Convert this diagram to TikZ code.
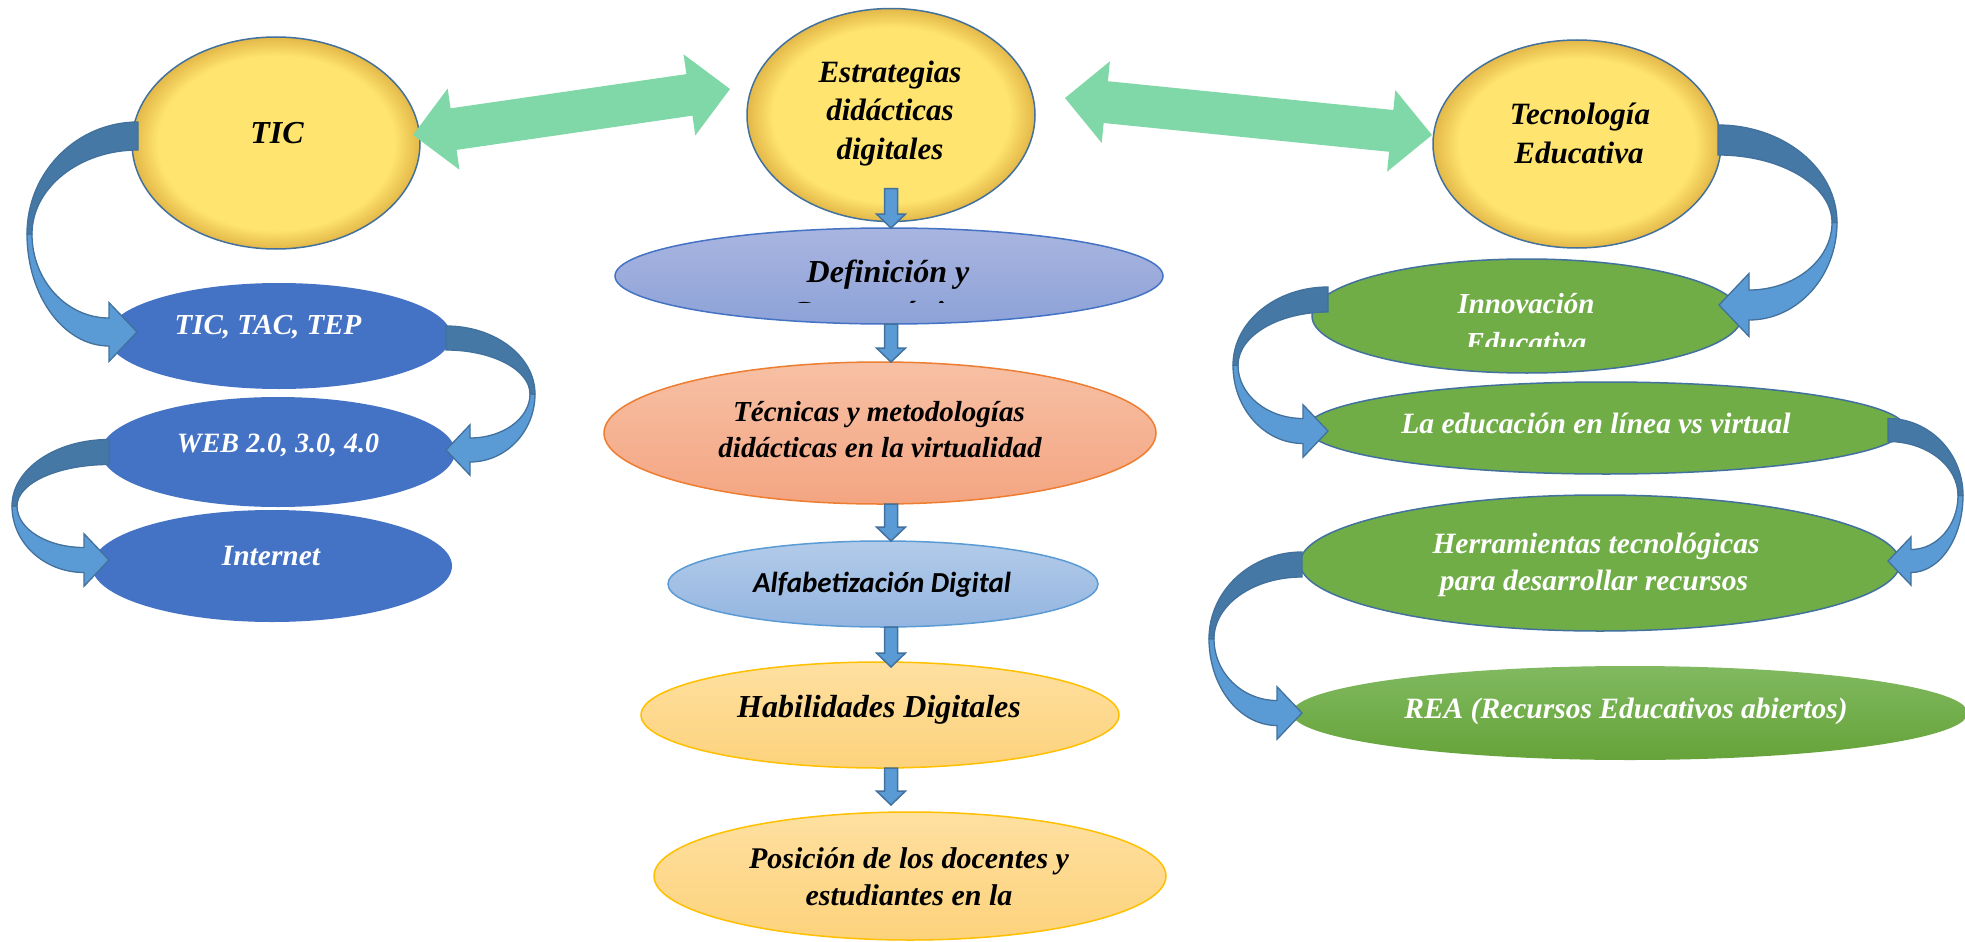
\documentclass[tikz,border=0pt]{standalone}
\usepackage{fontspec}
\setmainfont{Liberation Serif}
\newfontfamily\sansbi{Carlito}
\usetikzlibrary{shapes.geometric,calc}

% palette
\definecolor{ylw}{HTML}{FFE470}
\definecolor{ylwrim}{HTML}{E3B848}
\definecolor{rimline}{HTML}{41719C}
\definecolor{mint}{HTML}{80D8A8}
\definecolor{ribdark}{HTML}{4678A6}
\definecolor{riblight}{HTML}{5B9BD5}
\definecolor{ribedge}{HTML}{41719C}
\definecolor{navy}{HTML}{4472C4}
\definecolor{leaf}{HTML}{70AD47}
\definecolor{defA}{HTML}{A9B5E0}
\definecolor{defB}{HTML}{8DA2D8}
\definecolor{tecA}{HTML}{F7C0A4}
\definecolor{tecB}{HTML}{F4A582}
\definecolor{orng}{HTML}{ED7D31}
\definecolor{alfA}{HTML}{B2CBE9}
\definecolor{alfB}{HTML}{94B5E0}
\definecolor{sky}{HTML}{5B9BD5}
\definecolor{habA}{HTML}{FEE0A0}
\definecolor{habB}{HTML}{FDD27C}
\definecolor{gold}{HTML}{FFC000}
\definecolor{reaA}{HTML}{80B960}
\definecolor{reaB}{HTML}{66A339}

% yellow discs: flat centre, darker soft rim
\pgfdeclareradialshading{softyellow}{\pgfpoint{0bp}{0bp}}{color(0bp)=(ylw); color(20.5bp)=(ylw); color(25bp)=(ylwrim); color(50bp)=(ylwrim)}

\newcommand\fs[1]{\fontsize{#1}{#1}\selectfont}

% wide two-headed arrow between two named points
\newcommand\twinarrow[2]{%
  \fill[mint] let \p1=(#1), \p2=(#2), \n1={atan2(\y2-\y1,\x2-\x1)} in
    (\p1) -- ($(\p1)+(\n1:41pt)+(\n1+90:41pt)$) -- ($(\p1)+(\n1:41pt)+(\n1+90:21pt)$)
    -- ($(\p2)+(\n1+180:41pt)+(\n1+90:21pt)$) -- ($(\p2)+(\n1+180:41pt)+(\n1+90:41pt)$)
    -- (\p2) -- ($(\p2)+(\n1+180:41pt)+(\n1-90:41pt)$) -- ($(\p2)+(\n1+180:41pt)+(\n1-90:21pt)$)
    -- ($(\p1)+(\n1:41pt)+(\n1-90:21pt)$) -- ($(\p1)+(\n1:41pt)+(\n1-90:41pt)$) -- cycle;}

% short vertical block arrow
\newcommand\blockdown[2]{%
  \filldraw[fill=riblight, draw=ribedge, line width=1.5pt, line join=miter]
    let \p1=(#1), \p2=(#2) in
    (\x1-6.5pt,\y1) -- (\x1+6.5pt,\y1) -- (\x1+6.5pt,\y2+14pt) -- (\x1+14.5pt,\y2+14pt)
    -- (\x1,\y2) -- (\x1-14.5pt,\y2+14pt) -- (\x1-6.5pt,\y2+14pt) -- cycle;}

% twisted ribbon arrow: #1 side (1 right, -1 left), #2 tail point, #3 tip point,
% #4 band width, #5 bulge
\newcommand\ribbon[5]{%
  \path (#2); \pgfgetlastxy{\rbXa}{\rbYa}%
  \path (#3); \pgfgetlastxy{\rbXb}{\rbYb}%
  \pgfmathsetmacro\rbM{\rbYa-(\rbYb)}%
  \pgfmathsetmacro\rbTx{#1*(\rbXb-(\rbXa))}%
  \pgfmathsetmacro\rbW{#4/2}%
  \pgfmathsetmacro\rbR{#5}%
  \pgfmathsetmacro\rbD{#5-5}%
  \pgfmathsetmacro\rbC{\rbM/2}%
  \pgfmathsetmacro\rbB{\rbTx+#4}%
  \pgfmathsetmacro\rbH{1.05*#4}%
  \pgfmathsetmacro\rbSt{\rbM-\rbW}%
  \pgfmathsetmacro\rbSb{\rbM+\rbW}%
  \begin{scope}[shift={(#2)},xscale=#1]
    \filldraw[fill=riblight, draw=ribedge, line width=1.3pt, line join=miter]
      (\rbR,\rbC) .. controls (\rbR,{\rbC+0.552*(\rbSb-\rbC)}) and ({\rbB+0.552*(\rbR-\rbB)},\rbSb) .. (\rbB,\rbSb)
      -- (\rbB,\rbM+\rbH) -- (\rbTx,\rbM) -- (\rbB,\rbM-\rbH) -- (\rbB,\rbSt)
      .. controls ({\rbB+0.552*(\rbD-\rbB)},\rbSt) and (\rbD,{\rbC+0.552*(\rbSt-\rbC)}) .. (\rbD,\rbC) -- cycle;
    \filldraw[fill=ribdark, draw=ribedge, line width=1.3pt, line join=miter]
      (0,-\rbW) .. controls ({0.552*\rbR},-\rbW) and (\rbR,{\rbC-0.552*(\rbC+\rbW)}) .. (\rbR,\rbC)
      -- (\rbD,\rbC) .. controls (\rbD,{\rbC-0.552*(\rbC-\rbW)}) and ({0.552*\rbD},\rbW) .. (0,\rbW) -- cycle;
  \end{scope}}

\begin{document}
\begin{tikzpicture}[x=1pt,y=-1pt,
  every node/.style={inner sep=0pt, outer sep=0pt},
  sun/.style={ellipse, shading=softyellow, draw=rimline, line width=1.5pt},
  pill/.style={ellipse, line width=1.5pt},
  lbl/.style={anchor=base, font=\bfseries\itshape\fs{#1}},
  wlbl/.style={anchor=base, text=white, font=\bfseries\itshape\fs{#1}}]

\useasboundingbox (0,0) rectangle (1965,942);
\fill[white] (0,0) rectangle (1965,942);

% --- main discs
\node[sun, minimum width=288pt, minimum height=212pt] (tic)  at (276,143) {};
\node[sun, minimum width=288pt, minimum height=213pt] (estr) at (891,115) {};
\node[sun, minimum width=288pt, minimum height=208pt] (tec)  at (1577,144) {};

% --- centre column
\node[pill, top color=defA, bottom color=defB, draw=navy, minimum width=548pt, minimum height=96pt] (def) at (889,276) {};
\node[pill, top color=tecA, bottom color=tecB, draw=orng, minimum width=552pt, minimum height=142pt] (tech) at (880,433) {};
\node[pill, top color=alfA, bottom color=alfB, draw=sky, minimum width=430pt, minimum height=86pt] (alfa) at (883,584) {};
\node[pill, top color=habA, bottom color=habB, draw=gold, minimum width=478pt, minimum height=106pt] (hab) at (880,715) {};
\node[pill, top color=habA, bottom color=habB, draw=gold, minimum width=512pt, minimum height=128pt] (pos) at (910,876) {};

% --- left column
\node[pill, fill=navy, minimum width=344pt, minimum height=106pt] (ttt) at (279,336) {};
\node[pill, fill=navy, minimum width=354pt, minimum height=110pt] (web) at (278,452) {};
\node[pill, fill=navy, minimum width=360pt, minimum height=112pt] (int) at (272,566) {};

% --- right column
\node[pill, fill=leaf, draw=rimline, minimum width=430pt, minimum height=114pt] (inn)  at (1527,316) {};
\node[pill, fill=leaf, draw=rimline, minimum width=598pt, minimum height=92pt]  (laed) at (1606,428) {};
\node[pill, fill=leaf, draw=rimline, minimum width=600pt, minimum height=136pt] (herr) at (1600,563) {};
\node[pill, top color=reaA, bottom color=reaB, minimum width=676pt, minimum height=94pt] (rea) at (1630,713) {};

% --- two-headed links between the discs
\coordinate (g1a) at ([shift={(-7,-8)}]tic.east);
\coordinate (g1b) at ([shift={(-17,-26)}]estr.west);
\coordinate (g2a) at ([shift={(30,-17)}]estr.east);
\coordinate (g2b) at ([shift={(-1,-9)}]tec.west);
\twinarrow{g1a}{g1b}
\twinarrow{g2a}{g2b}

% --- centre column arrows
\coordinate (d1a) at ([yshift=33pt]estr.south);
\coordinate (d1b) at (estr.south |- def.north);
\coordinate (d2a) at (estr.south |- def.south);
\coordinate (d2b) at (estr.south |- tech.north);
\coordinate (d3a) at (estr.south |- tech.south);
\coordinate (d3b) at (estr.south |- alfa.north);
\coordinate (d4a) at (estr.south |- alfa.south);
\coordinate (d4b) at ($(estr.south |- hab.north)+(0,5)$);
\coordinate (d5a) at (estr.south |- hab.south);
\coordinate (d5b) at ($(estr.south |- pos.north)+(0,-7)$);
\blockdown{d1a}{d1b}
\blockdown{d2a}{d2b}
\blockdown{d3a}{d3b}
\blockdown{d4a}{d4b}
\blockdown{d5a}{d5b}

% --- ribbon arrows
\coordinate (r1a) at ([shift={(-138,-7)}]tic.center);
\coordinate (r1b) at ([shift={(-142,-4)}]ttt.center);
\coordinate (r2a) at ([shift={(167,2)}]ttt.center);
\coordinate (r2b) at ([shift={(168,-2)}]web.center);
\coordinate (r3a) at ([shift={(-169,0)}]web.center);
\coordinate (r3b) at ([shift={(-163,-6)}]int.center);
\coordinate (r4a) at ([shift={(141,-4)}]tec.center);
\coordinate (r4b) at ([shift={(192,-11)}]inn.center);
\coordinate (r5a) at ([shift={(-199,-16.5)}]inn.center);
\coordinate (r5b) at ([shift={(-278,3)}]laed.center);
\coordinate (r6a) at ([shift={(282,2)}]laed.center);
\coordinate (r6b) at ([shift={(288,-2)}]herr.center);
\coordinate (r7a) at ([shift={(-298,1.5)}]herr.center);
\coordinate (r7b) at ([shift={(-328,0)}]rea.center);
\ribbon{-1}{r1a}{r1b}{28}{111}
\ribbon{1}{r2a}{r2b}{24}{89}
\ribbon{-1}{r3a}{r3b}{25}{97}
\ribbon{1}{r4a}{r4b}{30}{119}
\ribbon{-1}{r5a}{r5b}{25}{95}
\ribbon{1}{r6a}{r6b}{23}{75}
\ribbon{-1}{r7a}{r7b}{25}{93}

% --- labels
\node[lbl=32] (tic-t)   at (277,143) {TIC};
\node[lbl=31] (estr-t1) at (890,82)  {Estrategias};
\node[lbl=31] (estr-t2) at (890,120) {didácticas};
\node[lbl=31] (estr-t3) at (890,159) {digitales};
\node[lbl=31] (tec-t1)  at (1580,124) {Tecnología};
\node[lbl=31] (tec-t2)  at (1579,163) {Educativa};

\node[lbl=32] (def-t1) at (888,282) {Definición y};
\begin{scope}
  \clip (600,200) rectangle (1180,302);
  \node[lbl=32] (def-t2) at (888,323) {Características};
\end{scope}
\node[lbl=29] (tech-t1) at (879,421) {Técnicas y metodologías};
\node[lbl=29] (tech-t2) at (880,457) {didácticas en la virtualidad};
\node[anchor=base, font=\sansbi\bfseries\itshape\fs{29}] (alfa-t) at (882,592) {Alfabetización Digital};
\node[lbl=32] (hab-t)  at (879,717) {Habilidades Digitales};
\node[lbl=30] (pos-t1) at (909,868) {Posición de los docentes y};
\node[lbl=30] (pos-t2) at (909,905) {estudiantes en la};

\node[wlbl=29]   (ttt-t) at (268,334) {TIC, TAC, TEP};
\node[wlbl=28]   (web-t) at (278,452) {WEB 2.0, 3.0, 4.0};
\node[wlbl=29.5] (int-t) at (271,565) {Internet};

\node[wlbl=29] (inn-t1) at (1526,313) {Innovación};
\begin{scope}
  \clip (1300,320) rectangle (1760,346);
  \node[wlbl=29] (inn-t2) at (1526,352) {Educativa};
\end{scope}
\node[wlbl=29.5] (laed-t)  at (1596,433) {La educación en línea vs virtual};
\node[wlbl=29.5] (herr-t1) at (1596,553) {Herramientas tecnológicas};
\node[wlbl=29.5] (herr-t2) at (1594,590) {para desarrollar recursos};
\node[wlbl=29.5] (rea-t)   at (1626,718) {REA (Recursos Educativos abiertos)};
\end{tikzpicture}
\end{document}
